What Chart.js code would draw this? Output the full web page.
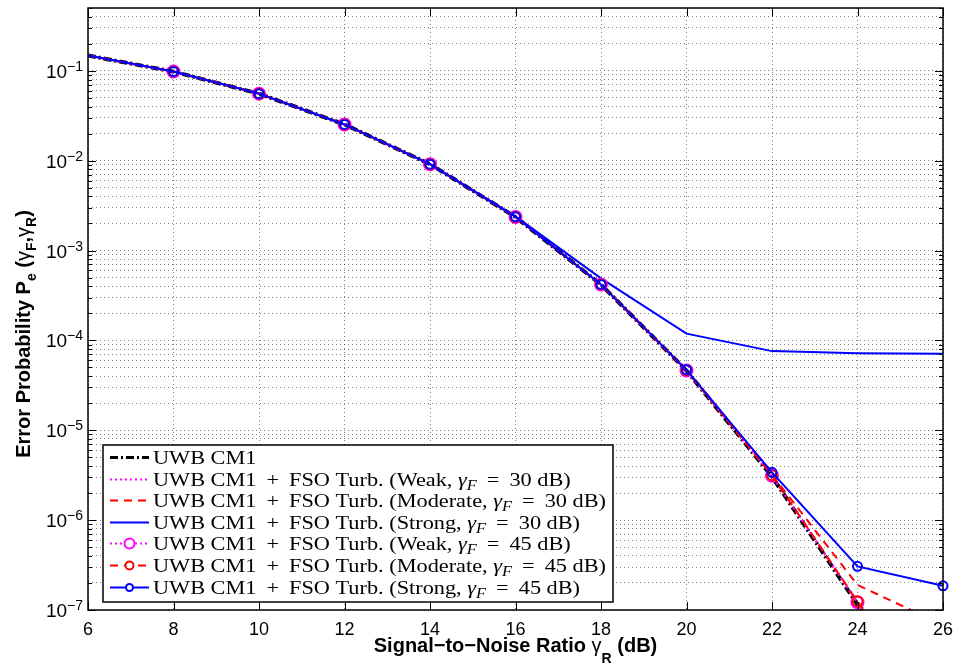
<!DOCTYPE html>
<html>
<head>
<meta charset="utf-8">
<script src="https://cdn.jsdelivr.net/npm/chart.js@4.4.0/dist/chart.umd.min.js"></script>
<style>
  html, body { margin: 0; padding: 0; background: #fff; }
  canvas { display: block; }
</style>
</head>
<body>
<canvas id="berChart" width="957" height="668"></canvas>
<script>
// ── Data ──────────────────────────────────────────────────────────────────────
const snrDb    = [6, 8, 10, 12, 14, 16, 18, 20, 22, 24, 26];
const cm1      = [0.148, 0.098, 0.0557, 0.0253, 0.00914, 0.00236, 4.18e-4, 4.62e-5, 3.05e-6, 1.15e-7, 6.0e-9];
const weak30   = [0.148, 0.098, 0.0557, 0.0253, 0.00914, 0.00236, 4.18e-4, 4.63e-5, 3.10e-6, 1.20e-7, 7.0e-9];
const mod30    = [0.148, 0.098, 0.0557, 0.0253, 0.00914, 0.00236, 4.19e-4, 4.66e-5, 3.20e-6, 1.90e-7, 6.8e-8];
const strong30 = [0.148, 0.098, 0.0557, 0.0253, 0.00916, 0.00240, 4.90e-4, 1.19e-4, 7.6e-5, 7.2e-5, 7.1e-5];
const weak45   = [0.148, 0.098, 0.0557, 0.0253, 0.00914, 0.00236, 4.18e-4, 4.63e-5, 3.12e-6, 1.22e-7, 7.0e-9];
const mod45    = [0.148, 0.098, 0.0557, 0.0253, 0.00914, 0.00236, 4.18e-4, 4.64e-5, 3.15e-6, 1.24e-7, 8.0e-9];
const strong45 = [0.148, 0.098, 0.0557, 0.0253, 0.00914, 0.00237, 4.20e-4, 4.70e-5, 3.40e-6, 3.06e-7, 1.86e-7];

const xTicks   = [6, 8, 10, 12, 14, 16, 18, 20, 22, 24, 26];
const yDecades = [-7, -6, -5, -4, -3, -2, -1];
const turbLevels = ['Weak', 'Moderate', 'Strong'];
const gammaF     = ['30', '45'];

// ── Fonts ─────────────────────────────────────────────────────────────────────
const SANS  = '"Liberation Sans", Arial, Helvetica, sans-serif';
const SERIF = '"Liberation Serif", "Times New Roman", serif';

// ── Series styles ─────────────────────────────────────────────────────────────
const series = [
  { data: cm1,      color: '#000000', width: 4, dash: [8, 3, 2, 3], marker: false },
  { data: weak30,   color: '#ff00ff', width: 2, dash: [2, 3],       marker: false },
  { data: mod30,    color: '#ff0000', width: 2, dash: [8, 6],       marker: false },
  { data: strong30, color: '#0000ff', width: 2, dash: [],           marker: false },
  { data: weak45,   color: '#ff00ff', width: 2, dash: [2, 3],       marker: 6 },
  { data: mod45,    color: '#ff0000', width: 2, dash: [8, 6],       marker: 5 },
  { data: strong45, color: '#0000ff', width: 2, dash: [],           marker: 4.5 },
];

const legendLabels = ['UWB CM1'];
gammaF.forEach(g => turbLevels.forEach(t => legendLabels.push({ turb: t, g })));

const datasets = series.map((s, i) => ({
  label: typeof legendLabels[i] === 'string' ? legendLabels[i] : `UWB CM1 + FSO Turb. (${legendLabels[i].turb}, γF = ${legendLabels[i].g} dB)`,
  data: snrDb.map((x, k) => ({ x, y: s.data[k] })),
  borderColor: s.color,
  borderWidth: s.width,
  borderDash: s.dash,
  backgroundColor: s.color,
  fill: false,
  tension: 0,
  pointRadius: s.marker ? (c => c.dataIndex === 0 ? 0 : s.marker) : 0,
  pointStyle: 'circle',
  pointBorderColor: s.color,
  pointBorderWidth: 2,
  pointBackgroundColor: 'rgba(0,0,0,0)',
  order: series.length - i,          // later series on top, like the original
  clip: { left: 0, top: 0, right: 8, bottom: 0 },
}));

// ── Rich text helper (for sub/superscripts) ──────────────────────────────────
function richWidth(ctx, segs) {
  let w = 0;
  segs.forEach(s => { ctx.font = s.f; s.w = ctx.measureText(s.t).width; w += s.w; });
  return w;
}
function drawRich(ctx, segs, x, y, align) {
  const w = richWidth(ctx, segs);
  let cx = align === 'center' ? x - w / 2 : align === 'right' ? x - w : x;
  segs.forEach(s => { ctx.font = s.f; ctx.fillText(s.t, cx, y + (s.dy || 0)); cx += s.w; });
}

const SP = ' \u2009';   // a bit wider spacing around + and =
function legendSegs(lab) {
  if (typeof lab === 'string') return [{ t: lab, f: `19px ${SERIF}` }];
  return [
    { t: `UWB CM1${SP}+${SP}FSO Turb. (${lab.turb}, `, f: `19px ${SERIF}` },
    { t: 'γ', f: `italic 19px ${SERIF}` },
    { t: 'F', f: `italic 14px ${SERIF}`, dy: 4 },
    { t: `${SP}=${SP}${lab.g} dB)`, f: `19px ${SERIF}` },
  ];
}

// ── Axes decoration plugin (MATLAB look) ─────────────────────────────────────
const matlabAxes = {
  id: 'matlabAxes',
  afterDraw(chart) {
    const { ctx, chartArea: a, scales: { x, y } } = chart;
    ctx.save();
    ctx.strokeStyle = '#000';
    ctx.fillStyle = '#000';
    ctx.lineWidth = 1;

    // inward tick marks
    ctx.beginPath();
    y.ticks.forEach(t => {
      const py = Math.round(y.getPixelForValue(t.value)) + 0.5;
      const major = Math.abs(Math.log10(t.value) - Math.round(Math.log10(t.value))) < 1e-6;
      const len = major ? 8 : 4;
      ctx.moveTo(a.left, py); ctx.lineTo(a.left + len, py);
      ctx.moveTo(a.right, py); ctx.lineTo(a.right - len, py);
    });
    xTicks.forEach(v => {
      const px = Math.round(x.getPixelForValue(v)) + 0.5;
      ctx.moveTo(px, a.bottom); ctx.lineTo(px, a.bottom - 8);
      ctx.moveTo(px, a.top); ctx.lineTo(px, a.top + 8);
    });
    ctx.stroke();

    // box
    ctx.lineWidth = 1.5;
    ctx.strokeRect(a.left, a.top, a.right - a.left, a.bottom - a.top);

    // x tick labels
    ctx.textBaseline = 'alphabetic';
    ctx.textAlign = 'left';
    xTicks.forEach(v => {
      drawRich(ctx, [{ t: String(v), f: `18px ${SANS}` }], x.getPixelForValue(v), a.bottom + 25, 'center');
    });

    // y tick labels 10^n
    yDecades.forEach(e => {
      const py = y.getPixelForValue(Math.pow(10, e));
      drawRich(ctx, [
        { t: '10', f: `19px ${SANS}` },
        { t: '\u2212' + Math.abs(e), f: `14px ${SANS}`, dy: -7 },
      ], a.left - 5, py + 7, 'right');
    });

    // x title
    drawRich(ctx, [
      { t: 'Signal\u2212to\u2212Noise Ratio ', f: `bold 20px ${SANS}` },
      { t: 'γ', f: `20px ${SANS}` },
      { t: 'R', f: `bold 14px ${SANS}`, dy: 11 },
      { t: ' (dB)', f: `bold 20px ${SANS}` },
    ], (a.left + a.right) / 2, 652, 'center');

    // y title
    ctx.save();
    ctx.translate(30, 334);
    ctx.rotate(-Math.PI / 2);
    drawRich(ctx, [
      { t: 'Error Probability P', f: `bold 20px ${SANS}` },
      { t: 'e', f: `bold 14px ${SANS}`, dy: 6 },
      { t: ' (', f: `bold 20px ${SANS}` },
      { t: 'γ', f: `20px ${SANS}` },
      { t: 'F', f: `bold 14px ${SANS}`, dy: 6 },
      { t: ',', f: `bold 20px ${SANS}` },
      { t: 'γ', f: `20px ${SANS}` },
      { t: 'R', f: `bold 14px ${SANS}`, dy: 6 },
      { t: ')', f: `bold 20px ${SANS}` },
    ], 0, 0, 'center');
    ctx.restore();

    // legend
    const lx = 103, ly = 445, lw = 510, lh = 157;
    ctx.fillStyle = '#fff';
    ctx.fillRect(lx, ly, lw, lh);
    ctx.lineWidth = 1.5;
    ctx.strokeStyle = '#000';
    ctx.strokeRect(lx, ly, lw, lh);
    // stretch the text so the longest row ends where it does in the figure
    const k = 453 / richWidth(ctx, legendSegs(legendLabels[2]));
    series.forEach((s, i) => {
      const base = ly + 19 + i * 21.6;
      const sy = Math.round(base - 7) + 0.5;
      ctx.save();
      ctx.strokeStyle = s.color;
      ctx.lineWidth = Math.min(s.width, 3);
      ctx.setLineDash(s.dash);
      ctx.beginPath(); ctx.moveTo(110, sy); ctx.lineTo(149, sy); ctx.stroke();
      ctx.setLineDash([]);
      if (s.marker) {
        ctx.lineWidth = 2;
        ctx.fillStyle = '#fff';
        ctx.beginPath(); ctx.arc(129.5, sy, s.marker - 1, 0, Math.PI * 2); ctx.fill(); ctx.stroke();
      }
      ctx.restore();
      ctx.save();
      ctx.fillStyle = '#000';
      ctx.translate(153, base);
      ctx.scale(k, 1);
      drawRich(ctx, legendSegs(legendLabels[i]), 0, 0, 'left');
      ctx.restore();
    });
    ctx.restore();
  },
};

// ── Chart ─────────────────────────────────────────────────────────────────────
const gridStyle = { color: 'rgba(0,0,0,0.5)', lineWidth: 1, drawTicks: false };

new Chart(document.getElementById('berChart').getContext('2d'), {
  type: 'line',
  data: { datasets },
  options: {
    responsive: false,
    animation: false,
    devicePixelRatio: 1,
    layout: { padding: { left: 0, top: 3, right: 14, bottom: 0 } },
    plugins: { legend: { display: false }, tooltip: { enabled: false } },
    scales: {
      x: {
        type: 'linear', min: 6, max: 26,
        ticks: { stepSize: 2, display: false },
        grid: gridStyle,
        border: { display: false, dash: [1, 3] },
        afterFit: s => { s.height = 58; },
      },
      y: {
        type: 'logarithmic', min: 1e-7, max: 0.5,
        ticks: { display: false },
        grid: gridStyle,
        border: { display: false, dash: [1, 3] },
        afterFit: s => { s.width = 88; },
        afterBuildTicks: s => {
          const t = [];
          yDecades.forEach(e => {
            for (let m = 1; m <= 9; m++) {
              const v = m * Math.pow(10, e);
              if (v <= 0.5 + 1e-12) t.push({ value: v });
            }
          });
          s.ticks = t;
        },
      },
    },
  },
  plugins: [matlabAxes],
});
</script>
</body>
</html>
